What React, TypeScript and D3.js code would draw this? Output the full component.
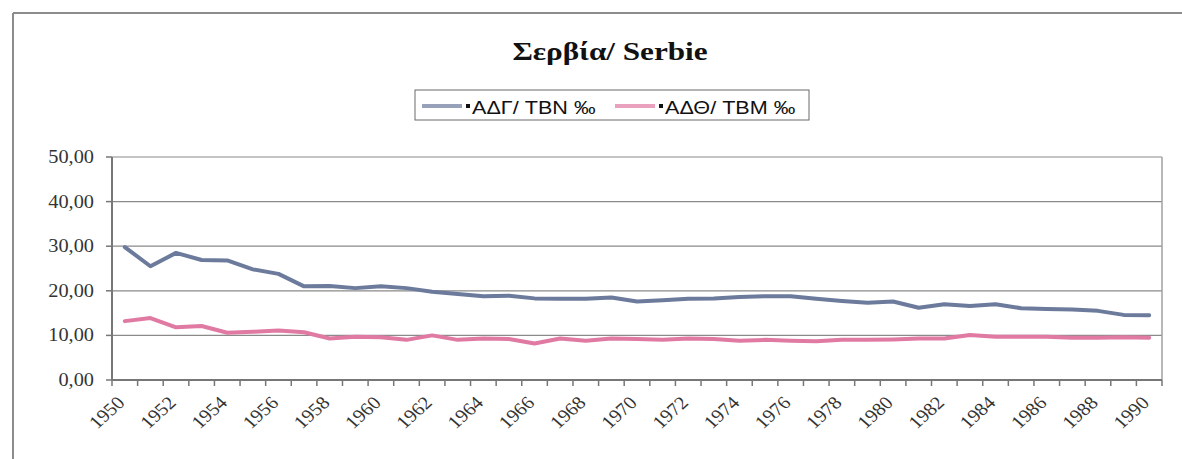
import React from "react";
import * as d3 from "d3";

const years: number[] = [
  1950, 1951, 1952, 1953, 1954, 1955, 1956, 1957, 1958, 1959,
  1960, 1961, 1962, 1963, 1964, 1965, 1966, 1967, 1968, 1969,
  1970, 1971, 1972, 1973, 1974, 1975, 1976, 1977, 1978, 1979,
  1980, 1981, 1982, 1983, 1984, 1985, 1986, 1987, 1988, 1989, 1990,
];

const tbn: number[] = [
  29.8, 25.5, 28.5, 26.9, 26.8, 24.8, 23.8, 21.0, 21.1, 20.6,
  21.0, 20.6, 19.8, 19.3, 18.8, 18.9, 18.3, 18.2, 18.2, 18.5,
  17.6, 17.9, 18.2, 18.3, 18.6, 18.8, 18.8, 18.2, 17.7, 17.3,
  17.6, 16.2, 17.0, 16.6, 17.0, 16.1, 15.9, 15.8, 15.5, 14.6, 14.5,
];

const tbm: number[] = [
  13.2, 13.9, 11.8, 12.1, 10.6, 10.8, 11.1, 10.7, 9.3, 9.7,
  9.6, 9.0, 10.0, 9.0, 9.3, 9.2, 8.2, 9.3, 8.8, 9.3,
  9.2, 9.0, 9.3, 9.2, 8.8, 9.0, 8.8, 8.7, 9.0, 9.0,
  9.1, 9.3, 9.3, 10.1, 9.7, 9.7, 9.7, 9.5, 9.5, 9.6, 9.5,
];

const yTicks: number[] = [0, 10, 20, 30, 40, 50];
const xLabelYears: number[] = [
  1950, 1952, 1954, 1956, 1958, 1960, 1962, 1964, 1966, 1968, 1970,
  1972, 1974, 1976, 1978, 1980, 1982, 1984, 1986, 1988, 1990,
];

const seriesNames: string[] = ["ΑΔΓ/ TBN ‰", "ΑΔΘ/ TBM ‰"];
const title = "Σερβία/ Serbie";

const W = 1182;
const H = 459;
const SX = 1.13; // horizontal stretch of the scanned picture
const SERIF = "Liberation Serif, Times New Roman, serif";
const SANS = "Liberation Sans, Arial, sans-serif";
const BLUE = "#6c7a9c";
const PINK = "#e07aa3";

export default function App() {
  const left = 112, right = 1162, top = 157, bottom = 380;
  const x = d3.scaleBand<number>().domain(years).range([left, right]).padding(0);
  const y = d3.scaleLinear().domain([0, 50]).range([bottom, top]);
  const bw = x.bandwidth();
  const cx = (yr: number) => (x(yr) as number) + bw / 2;

  const line = d3
    .line<number>()
    .x((_, i) => cx(years[i]))
    .y((d) => y(d));

  const boundaries = years.map((yr) => x(yr) as number).concat([right]);

  const fmt = (v: number) => v.toFixed(2).replace(".", ",");

  const legendItems = [
    { name: seriesNames[0], color: BLUE, x0: 422 },
    { name: seriesNames[1], color: PINK, x0: 615 },
  ];

  return (
    <svg
      width={W}
      height={H}
      style={{ position: "absolute", left: 0, top: 0, display: "block", background: "#fff" }}
    >
      <rect x={0} y={0} width={W} height={H} fill="#fff" />
      {/* outer chart frame */}
      <line x1={13} y1={13} x2={W} y2={13} stroke="#8c8c8c" strokeWidth={2} />
      <line x1={13} y1={13} x2={13} y2={H} stroke="#8c8c8c" strokeWidth={2} />

      {/* title */}
      <text
        transform={`translate(610,60) scale(1.2,1)`}
        textAnchor="middle"
        fontFamily={SERIF}
        fontWeight="bold"
        fontSize={26}
        fill="#111"
      >
        {title}
      </text>

      {/* legend */}
      <rect x={415} y={90} width={394} height={30} fill="#fff" stroke="#6a6a6a" strokeWidth={1} />
      {legendItems.map((it) => (
        <g key={it.name}>
          <line x1={it.x0} x2={it.x0 + 40} y1={106} y2={106} stroke={it.color} strokeWidth={4} opacity={0.7} />
          <rect x={it.x0 + 44} y={104} width={4} height={4} fill="#111" />
          <text
            transform={`translate(${it.x0 + 50},113.5) scale(1.2,1)`}
            fontFamily={SANS}
            fontSize={18}
            fill="#111"
          >
            {it.name}
          </text>
        </g>
      ))}

      {/* gridlines */}
      {yTicks.map((t) => (
        <line key={"g" + t} x1={left} x2={right} y1={y(t)} y2={y(t)} stroke="#8a8a8a" strokeWidth={1.2} />
      ))}
      {/* right border of plot */}
      <line x1={right} x2={right} y1={top} y2={bottom} stroke="#a0a0a0" strokeWidth={1.5} />

      {/* y axis */}
      <line x1={left} x2={left} y1={top} y2={bottom} stroke="#777" strokeWidth={2} />
      {yTicks.map((t) => (
        <g key={"y" + t}>
          <line x1={left - 6} x2={left} y1={y(t)} y2={y(t)} stroke="#777" strokeWidth={1.5} />
          <text
            transform={`translate(94,${y(t)}) scale(${SX},1)`}
            textAnchor="end"
            dominantBaseline="central"
            fontFamily={SERIF}
            fontSize={18}
            fill="#333"
          >
            {fmt(t)}
          </text>
        </g>
      ))}

      {/* x axis */}
      <line x1={left} x2={right} y1={bottom} y2={bottom} stroke="#777" strokeWidth={2} />
      {boundaries.map((b, i) => (
        <line key={"xt" + i} x1={b} x2={b} y1={bottom} y2={bottom + 6} stroke="#777" strokeWidth={1.5} />
      ))}
      {xLabelYears.map((yr) => (
        <text
          key={"xl" + yr}
          transform={`translate(${cx(yr) - 9},${bottom + 15}) scale(${SX},1) rotate(-45)`}
          textAnchor="end"
          dominantBaseline="hanging"
          fontFamily={SERIF}
          fontSize={18}
          fill="#333"
        >
          {String(yr)}
        </text>
      ))}

      {/* series */}
      <path d={line(tbm) || ""} fill="none" stroke={PINK} strokeWidth={4} strokeLinejoin="round" strokeLinecap="round" />
      <path d={line(tbn) || ""} fill="none" stroke={BLUE} strokeWidth={4} strokeLinejoin="round" strokeLinecap="round" />
    </svg>
  );
}
